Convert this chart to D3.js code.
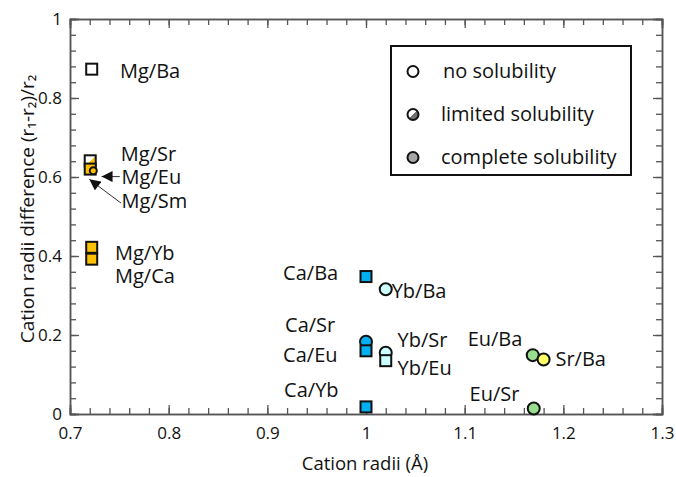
<!DOCTYPE html>
<html>
<head>
<meta charset="utf-8">
<script src="https://cdn.jsdelivr.net/npm/d3@7"></script>
<style>
  body { margin: 0; background: #fff; }
  text { font-family: "Open Sans", "Noto Sans", sans-serif; fill: #111; }
</style>
</head>
<body>
<svg id="chart" width="676" height="477"></svg>
<script>
// data
const pairs  = ['Mg/Ba', 'Mg/Sr', 'Mg/Eu', 'Mg/Sm', 'Mg/Yb', 'Mg/Ca', 'Ca/Ba', 'Yb/Ba', 'Ca/Sr', 'Ca/Eu', 'Yb/Sr', 'Yb/Eu', 'Ca/Yb', 'Eu/Ba', 'Sr/Ba', 'Eu/Sr'];
const radii  = [0.722, 0.7205, 0.7205, 0.7236, 0.722, 0.722, 1.0, 1.02, 1.0, 1.0, 1.02, 1.02, 1.0, 1.169, 1.18, 1.17];
const diffs  = [0.873, 0.641, 0.62, 0.616, 0.422, 0.392, 0.348, 0.316, 0.183, 0.16, 0.155, 0.135, 0.018, 0.149, 0.138, 0.014];
const shapes = ['square', 'square', 'square', 'small', 'square', 'square', 'square', 'circle', 'circle', 'square', 'circle', 'square', 'square', 'circle', 'circle', 'circle'];
const solub  = ['none', 'limited', 'complete', 'complete', 'complete', 'complete', 'complete', 'none', 'complete', 'complete', 'none', 'none', 'complete', 'complete', 'complete', 'complete'];
const groups = ['Mg', 'Mg', 'Mg', 'Mg', 'Mg', 'Mg', 'Ca', 'Yb', 'Ca', 'Ca', 'Yb', 'Yb', 'Ca', 'Eu', 'Sr', 'Eu'];
// label anchor (text start, vertical centre) in data units
const labelX = [0.7507, 0.7515, 0.7523, 0.7523, 0.7456, 0.7456, 0.916, 1.026, 0.918, 0.916, 1.032, 1.032, 0.917, 1.103, 1.192, 1.105];
const labelY = [0.868, 0.658, 0.601, 0.54, 0.408, 0.349, 0.357, 0.311, 0.225, 0.149, 0.187, 0.116, 0.061, 0.19, 0.139, 0.051];
// arrows for Mg/Eu and Mg/Sm
const arrowFrom = [[0.7505, 0.601], [0.7517, 0.534]];
const arrowTo   = [[0.732, 0.601], [0.7196, 0.594]];

const legendLabels = ['no solubility', 'limited solubility', 'complete solubility'];
const legendKeys   = ['none', 'limited', 'complete'];

const xTicks = [0.7, 0.8, 0.9, 1.0, 1.1, 1.2, 1.3];
const yTicks = [0, 0.2, 0.4, 0.6, 0.8, 1];

const groupColor = { Mg: '#FFC000', Ca: '#00B0F0', Yb: '#CCFFFF', Eu: '#99DD8F', Sr: '#FFFF66', legend: '#A6A6A6' };

const svg = d3.select('#chart');
const padL = 70, padR = 662, padT = 19, padB = 414;

const x = d3.scaleLinear().domain([0.7, 1.3]).range([padL, padR]);
const y = d3.scaleLinear().domain([0, 1]).range([padB, padT]);

// gradients for "limited" symbols
const defs = svg.append('defs');
function halfGrad(id, color) {
    const g = defs.append('linearGradient').attr('id', id)
        .attr('x1', '0%').attr('y1', '0%').attr('x2', '100%').attr('y2', '100%');
    g.append('stop').attr('offset', '50%').attr('stop-color', '#fff');
    g.append('stop').attr('offset', '50%').attr('stop-color', color);
}
halfGrad('limMg', groupColor.Mg);
halfGrad('limLegend', '#707070');
defs.append('marker').attr('id', 'arr')
    .attr('viewBox', '0 0 10 10').attr('refX', 10).attr('refY', 5)
    .attr('markerWidth', 12).attr('markerHeight', 11).attr('markerUnits', 'userSpaceOnUse')
    .attr('orient', 'auto')
    .append('path').attr('d', 'M0,0L10,5L0,10Z').attr('fill', '#111');

// frame + ticks on all sides, pointing inward
const axisColor = '#555';
const fmt = d => String(+d.toFixed(1));
const minorX = d3.range(0.7, 1.3001, 0.02);
const minorY = d3.range(0, 1.0001, 0.04);

function drawAxis(axis, pos, minor, isX, showLabels) {
    const g = svg.append('g').attr('transform', pos);
    g.call(axis.tickValues(minor).tickSize(6).tickFormat(''));
    const gm = svg.append('g').attr('transform', pos);
    gm.call(axis.tickValues(isX ? xTicks : yTicks).tickSize(9).tickFormat(showLabels ? fmt : ''));
    [g, gm].forEach(s => {
        s.selectAll('path').attr('stroke', axisColor).attr('stroke-width', 1.5);
        s.selectAll('line').attr('stroke', axisColor).attr('stroke-width', 1.3);
    });
    gm.selectAll('text').style('font-size', '17px').attr('fill', '#111');
    return gm;
}
const gb = drawAxis(d3.axisTop(x), `translate(0,${padB})`, minorX, true, true);
gb.selectAll('text').attr('y', 0).attr('dy', '1.45em');
drawAxis(d3.axisBottom(x), `translate(0,${padT})`, minorX, true, false);
const gl = drawAxis(d3.axisRight(y), `translate(${padL},0)`, minorY, false, true);
gl.selectAll('text').attr('x', -8).attr('text-anchor', 'end');
drawAxis(d3.axisLeft(y), `translate(${padR},0)`, minorY, false, false);

// axis titles
svg.append('text').attr('x', 365).attr('y', 470)
    .attr('text-anchor', 'middle').style('font-size', '18.5px').text('Cation radii (Å)');
svg.append('text').attr('transform', `translate(34,209) rotate(-90)`)
    .attr('text-anchor', 'middle').style('font-size', '19px')
    .text('Cation radii difference (r\u2081-r\u2082)/r\u2082');

// data points
const pts = pairs.map((p, i) => ({ p, x: radii[i], y: diffs[i], shape: shapes[i], sol: solub[i], grp: groups[i] }));
function fillOf(d) {
    if (d.sol === 'none') return d.grp === 'Yb' ? groupColor.Yb : '#fff';
    if (d.sol === 'limited') return 'url(#limMg)';
    return groupColor[d.grp];
}
const s = 11;
svg.append('g').selectAll('g').data(pts).join('g')
    .each(function (d) {
        const g = d3.select(this);
        if (d.shape === 'square') {
            g.append('rect').attr('x', x(d.x) - s / 2).attr('y', y(d.y) - s / 2)
                .attr('width', s).attr('height', s);
        } else {
            g.append('circle').attr('cx', x(d.x)).attr('cy', y(d.y)).attr('r', d.shape === 'small' ? 3.5 : 6);
        }
        g.selectAll('rect,circle').attr('fill', fillOf(d)).attr('stroke', '#111').attr('stroke-width', 2);
    });

// labels
svg.append('g').selectAll('text').data(pairs).join('text')
    .attr('x', (d, i) => x(labelX[i])).attr('y', (d, i) => y(labelY[i]))
    .attr('dy', '0.36em').style('font-size', '20px').text(d => d);

// arrows
svg.append('g').selectAll('line').data(arrowFrom).join('line')
    .attr('x1', d => x(d[0])).attr('y1', d => y(d[1]))
    .attr('x2', (d, i) => x(arrowTo[i][0])).attr('y2', (d, i) => y(arrowTo[i][1]))
    .attr('stroke', '#333').attr('stroke-width', 1).attr('marker-end', 'url(#arr)');

// legend
const lg = svg.append('g');
lg.append('rect').attr('x', 391).attr('y', 46).attr('width', 240).attr('height', 129)
    .attr('fill', '#fff').attr('stroke', '#111').attr('stroke-width', 2);
const legFill = { none: '#fff', limited: 'url(#limLegend)', complete: groupColor.legend };
lg.selectAll('circle').data(legendKeys).join('circle')
    .attr('cx', 413).attr('cy', (d, i) => 71.5 + i * 43)
    .attr('r', 5.5).attr('fill', d => legFill[d]).attr('stroke', '#111').attr('stroke-width', 2);
lg.selectAll('text').data(legendLabels).join('text')
    .attr('x', (d, i) => i === 0 ? 443 : 441).attr('y', (d, i) => 71.5 + i * 43)
    .attr('dy', '0.34em').style('font-size', '20px').text(d => d);
</script>
</body>
</html>
